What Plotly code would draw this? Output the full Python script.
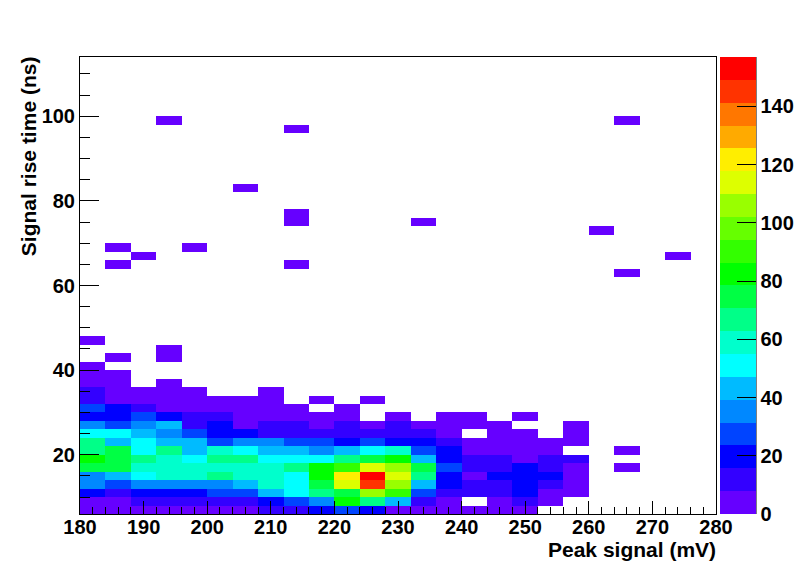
import plotly.graph_objects as go

# Counts per 4 mV x 2 ns bin; rows start at rise time 6 ns, columns at 180 mV. 0 = empty bin.
ROWS = [
    [3,3,3,3,3,3,3,12,12,20,27,20,3,3,3,3,3,3],
    [3,3,12,12,12,12,12,20,27,35,82,67,43,12,3,0,3,12,3],
    [20,12,20,20,20,27,27,43,51,67,75,106,90,27,12,12,12,20,3,3],
    [35,27,35,35,35,35,43,59,51,75,114,145,106,43,20,12,12,20,12,3],
    [35,43,51,59,59,67,59,59,51,82,122,153,114,67,20,3,20,20,20,3],
    [75,75,59,59,59,59,59,59,67,82,90,114,106,75,27,12,12,20,12,3],
    [82,75,67,59,51,67,67,51,51,51,67,75,82,43,20,12,12,3,12,12],
    [67,75,51,67,43,59,51,43,43,35,43,51,59,27,20,3,3,3,3],
    [67,43,51,43,43,27,35,35,27,27,20,27,20,20,12,3,3,3,3,3],
    [51,51,43,35,27,20,20,12,12,12,12,12,12,12,3,0,3,3,0,3],
    [35,27,35,43,12,20,3,12,12,3,12,3,12,3,3,3,3,0,0,3],
    [20,20,27,20,12,12,3,3,3,3,3,0,3,0,3,3,0,3],
    [27,20,12,3,3,3,3,3,3,0,3],
    [12,3,3,3,3,3,3,3,0,3,0,3],
    [12,3,3,3,3,0,0,3],
    [3,3,0,3],
    [3,3],
    [3],
    [0,3,0,3],
    [0,0,0,3],
    [3],
]
# Isolated bins: lower edges (peak mV, rise ns), each a few counts
ISOLATED = [(192,98),(212,96),(264,98),(204,82),(212,74),(212,76),(232,74),(260,72),
            (184,68),(196,68),(188,66),(272,66),(184,64),(212,64),(264,62),(264,20),(264,16)]
ISOLATED_COUNT = 3

X_EDGES = list(range(180, 281, 4))
Y_EDGES = list(range(6, 115, 2))
Z_MAX = 157
PALETTE = ["#6600ff","#3300ff","#0000ff","#0044ff","#0088ff","#00bbff","#00ffff","#00ffcc",
           "#00ff88","#00ff44","#00ff00","#33ff00","#66ff00","#99ff00","#ddff00","#ffee00",
           "#ffaa00","#ff7700","#ff3300","#ff0000"]
X_TICKS = list(range(180, 281, 10))
Y_TICKS = list(range(20, 101, 20))
CB_TICKS = list(range(0, 141, 20))

nx, ny = len(X_EDGES) - 1, len(Y_EDGES) - 1
z = [[None] * nx for _ in range(ny)]
for r, row in enumerate(ROWS):
    for c, v in enumerate(row):
        if v:
            z[r][c] = v
for xe, ye in ISOLATED:
    z[Y_EDGES.index(ye)][X_EDGES.index(xe)] = ISOLATED_COUNT

xc = [(a + b) / 2 for a, b in zip(X_EDGES, X_EDGES[1:])]
yc = [(a + b) / 2 for a, b in zip(Y_EDGES, Y_EDGES[1:])]

n = len(PALETTE)
cs = []
for i, col in enumerate(PALETTE):
    cs += [[i / n, col], [(i + 1) / n, col]]

FONT = dict(family="Liberation Sans", size=20, color="black", weight=700)
TITLE_FONT = dict(family="Liberation Sans", size=21, color="black", weight=700)
W, H = 796, 572
L, R, T, B = 80, 716, 57, 514
PW = R - L

fig = go.Figure(go.Heatmap(
    x=xc, y=yc, z=z, zmin=0, zmax=Z_MAX, colorscale=cs, zsmooth=False, hoverongaps=False,
    colorbar=dict(
        x=(720 - L) / PW, xanchor="left", xpad=0, y=0, yanchor="bottom", ypad=0,
        len=1, lenmode="fraction", thickness=36, thicknessmode="pixels",
        outlinewidth=0, tickmode="array", tickvals=CB_TICKS, ticks="inside", ticklen=19,
        tickcolor="black", tickwidth=1, tickfont=FONT,
    ),
))
fig.update_layout(
    width=W, height=H, margin=dict(l=L, r=W - R, t=T, b=H - B, autoexpand=False),
    paper_bgcolor="white", plot_bgcolor="white", font=FONT,
    xaxis=dict(range=[X_EDGES[0], X_EDGES[-1]], tickmode="array", tickvals=X_TICKS,
               ticks="inside", ticklen=13, tickcolor="black", tickwidth=1, ticklabelstandoff=-5,
               minor=dict(dtick=2, ticks="inside", ticklen=7, tickcolor="black", tickwidth=1),
               showgrid=False, zeroline=False, showline=True, linecolor="black", linewidth=1,
               mirror=True, tickfont=FONT),
    yaxis=dict(range=[Y_EDGES[0], Y_EDGES[-1]], tickmode="array", tickvals=Y_TICKS,
               ticks="inside", ticklen=19, tickcolor="black", tickwidth=1,
               minor=dict(dtick=5, ticks="inside", ticklen=10, tickcolor="black", tickwidth=1),
               showgrid=False, zeroline=False, showline=True, linecolor="black", linewidth=1,
               mirror=True, tickfont=FONT),
    annotations=[
        dict(text="Peak signal (mV)", xref="paper", yref="paper", x=1, y=0, xanchor="right",
             yanchor="top", xshift=2, yshift=-22, showarrow=False, font=TITLE_FONT),
        dict(text="Signal rise time (ns)", xref="paper", yref="paper", x=0, y=0.783,
             xanchor="center", yanchor="middle", xshift=-52, textangle=-90, showarrow=False, font=TITLE_FONT),
    ],
    shapes=[dict(type="line", xref="paper", yref="paper",
                 x0=(756 - L) / PW, x1=(756 - L) / PW, y0=0, y1=1,
                 line=dict(color="black", width=1))],
)
fig.write_html("out.html", config=dict(displayModeBar=False),
               post_script="document.body.style.margin='0';document.documentElement.style.overflow='hidden';")
